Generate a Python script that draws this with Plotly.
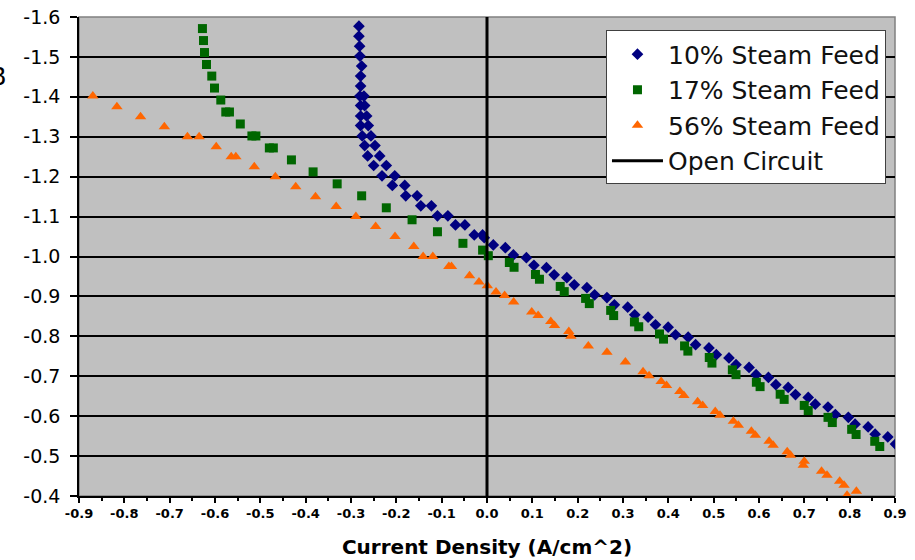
import plotly.graph_objects as go

# ---- data ----
steam10_x = [-0.2825, -0.2825, -0.281, -0.2803, -0.2765, -0.2788, -0.2788, -0.2803, -0.2715,
             -0.2788, -0.2699, -0.2788, -0.2655, -0.2788, -0.2619, -0.2752, -0.256, -0.2699, -0.2471,
             -0.2633, -0.2367, -0.25, -0.2221, -0.2316, -0.2035, -0.2088, -0.1814, -0.1792, -0.1542,
             -0.146, -0.1226, -0.1093, -0.0863, -0.0695, -0.0487, -0.0281, -0.0097, -0.006, 0.0139,
             0.0405, 0.0582, 0.0869, 0.1035, 0.1312, 0.1482, 0.1761, 0.1925, 0.2204, 0.2374, 0.2646,
             0.281, 0.3104, 0.3259, 0.3553, 0.3717, 0.3996, 0.4159, 0.4438, 0.4602, 0.4896, 0.5058,
             0.5338, 0.5493, 0.5781, 0.5936, 0.6208, 0.6372, 0.6644, 0.6805, 0.7086, 0.7241, 0.7522,
             0.7684, 0.7971, 0.8119, 0.8407, 0.8562, 0.8841, 0.9011]
steam10_y = [-1.577, -1.552, -1.527, -1.502, -1.477, -1.452, -1.427, -1.402, -1.402,
             -1.378, -1.378, -1.352, -1.352, -1.328, -1.328, -1.302, -1.302, -1.278, -1.278,
             -1.252, -1.252, -1.228, -1.228, -1.202, -1.202, -1.178, -1.178, -1.152, -1.152,
             -1.127, -1.127, -1.102, -1.102, -1.079, -1.079, -1.054, -1.054, -1.047, -1.029,
             -1.022, -1.004, -0.997, -0.978, -0.972, -0.954, -0.947, -0.929, -0.922, -0.904, -0.897,
             -0.879, -0.873, -0.854, -0.848, -0.829, -0.823, -0.804, -0.798, -0.779, -0.771, -0.754,
             -0.746, -0.729, -0.722, -0.704, -0.697, -0.679, -0.672, -0.654, -0.647, -0.630, -0.623,
             -0.604, -0.597, -0.580, -0.573, -0.555, -0.548, -0.530]

steam17_x = [-0.6277, -0.6254, -0.6232, -0.6188, -0.6071, -0.6011, -0.5872, -0.5762, -0.5681,
             -0.5442, -0.5186, -0.5098, -0.4801, -0.4713, -0.4314, -0.3836, -0.3305, -0.2765,
             -0.2221, -0.1653, -0.1093, -0.0531, -0.0097, 0.0029, 0.0493, 0.0597, 0.1069, 0.1157,
             0.1615, 0.1704, 0.2175, 0.2257, 0.2728, 0.2794, 0.3252, 0.3347, 0.3805, 0.3894, 0.4358,
             0.4431, 0.4903, 0.4962, 0.5412, 0.5493, 0.5942, 0.6024, 0.6467, 0.6555, 0.6998, 0.7086,
             0.7522, 0.7617, 0.8044, 0.8142, 0.8553, 0.8664]
steam17_y = [-1.571, -1.541, -1.511, -1.481, -1.452, -1.422, -1.392, -1.362, -1.362,
             -1.332, -1.302, -1.302, -1.272, -1.272, -1.242, -1.212, -1.182, -1.152,
             -1.122, -1.092, -1.062, -1.033, -1.016, -1.002, -0.985, -0.973, -0.955, -0.943,
             -0.925, -0.912, -0.895, -0.882, -0.865, -0.852, -0.836, -0.824, -0.806, -0.793, -0.776,
             -0.763, -0.747, -0.733, -0.716, -0.704, -0.685, -0.674, -0.655, -0.642, -0.627, -0.614,
             -0.597, -0.584, -0.567, -0.554, -0.537, -0.524]

steam56_x = [-0.8695, -0.8164, -0.7642, -0.7117, -0.6608, -0.635, -0.5973, -0.5642, -0.554,
             -0.5133, -0.4668, -0.4219, -0.3783, -0.3327, -0.2892, -0.2456, -0.2029, -0.1615,
             -0.1409, -0.1195, -0.0841, -0.0783, -0.0385, -0.0177, 0.0007, 0.0199, 0.0389, 0.0588,
             0.0987, 0.1128, 0.1407, 0.1489, 0.1805, 0.185, 0.2235, 0.2646, 0.3053, 0.3442, 0.3575,
             0.3841, 0.396, 0.4254, 0.4343, 0.4646, 0.4757, 0.5035, 0.5139, 0.5434, 0.5544, 0.5832,
             0.592, 0.6223, 0.6312, 0.6622, 0.6695, 0.6998, 0.6976, 0.738, 0.75, 0.7779, 0.7876,
             0.7942, 0.8148]
steam56_y = [-1.402, -1.375, -1.350, -1.325, -1.300, -1.300, -1.275, -1.250, -1.250,
             -1.225, -1.200, -1.175, -1.150, -1.125, -1.100, -1.075, -1.050, -1.025,
             -1.000, -1.000, -0.975, -0.975, -0.952, -0.936, -0.927, -0.911, -0.902, -0.886,
             -0.861, -0.852, -0.837, -0.827, -0.812, -0.800, -0.776, -0.760, -0.736, -0.711, -0.701,
             -0.687, -0.677, -0.662, -0.652, -0.636, -0.627, -0.612, -0.602, -0.587, -0.577, -0.562,
             -0.552, -0.537, -0.527, -0.511, -0.502, -0.487, -0.477, -0.462, -0.452, -0.437, -0.427,
             -0.402, -0.412]

open_circuit_x = [0.0, 0.0]
open_circuit_y = [-1.6, -0.4]

series_names = ["10% Steam Feed", "17% Steam Feed", "56% Steam Feed", "Open Circuit"]

x_tick_vals = [-0.9, -0.8, -0.7, -0.6, -0.5, -0.4, -0.3, -0.2, -0.1, 0.0,
               0.1, 0.2, 0.3, 0.4, 0.5, 0.6, 0.7, 0.8, 0.9]
x_tick_text = ["-0.9", "-0.8", "-0.7", "-0.6", "-0.5", "-0.4", "-0.3", "-0.2", "-0.1", "0.0",
               "0.1", "0.2", "0.3", "0.4", "0.5", "0.6", "0.7", "0.8", "0.9"]
y_tick_vals = [-1.6, -1.5, -1.4, -1.3, -1.2, -1.1, -1.0, -0.9, -0.8, -0.7, -0.6, -0.5, -0.4]
y_tick_text = ["-1.6", "-1.5", "-1.4", "-1.3", "-1.2", "-1.1", "-1.0", "-0.9", "-0.8",
               "-0.7", "-0.6", "-0.5", "-0.4"]

FONT = "DejaVu Sans, Verdana, sans-serif"

fig = go.Figure()
fig.add_trace(go.Scatter(x=steam10_x, y=steam10_y, mode="markers", name=series_names[0],
                         marker=dict(symbol="diamond", size=9, color="#000080")))
fig.add_trace(go.Scatter(x=steam17_x, y=steam17_y, mode="markers", name=series_names[1],
                         marker=dict(symbol="square", size=9, color="#006600")))
fig.add_trace(go.Scatter(x=steam56_x, y=steam56_y, mode="markers", name=series_names[2],
                         marker=dict(symbol="triangle-up", size=10, color="#FF6600")))
fig.add_trace(go.Scatter(x=open_circuit_x, y=open_circuit_y, mode="lines", name=series_names[3],
                         line=dict(color="black", width=3)))

fig.update_layout(
    width=915, height=560,
    margin=dict(l=79, r=20, t=17, b=64, autoexpand=False),
    paper_bgcolor="white",
    plot_bgcolor="#C0C0C0",
    font=dict(family=FONT, color="black"),
    showlegend=True,
    legend=dict(
        x=0.6458, y=0.972, xanchor="left", yanchor="top",
        bgcolor="white", bordercolor="#404040", borderwidth=1,
        font=dict(family=FONT, size=25, color="#111111"),
        itemwidth=51, tracegroupgap=0,
    ),
    xaxis=dict(
        range=[-0.9, 0.9], tickvals=x_tick_vals, ticktext=x_tick_text,
        automargin=False, ticklabeloverflow="allow",
        showgrid=False, zeroline=False,
        showline=True, linecolor="black", linewidth=1.5,
        ticks="outside", ticklen=5, tickcolor="black", tickwidth=1.5,
        minor=dict(dtick=0.05, tick0=-0.9, ticks="outside", ticklen=3, tickcolor="black", showgrid=False),
        tickfont=dict(family=FONT, size=13, color="black", weight="bold"),
        title=dict(text="<b>Current Density (A/cm^2)</b>", font=dict(family=FONT, size=20, color="black"),
                   standoff=20),
    ),
    yaxis=dict(
        range=[-0.4, -1.6], tickvals=y_tick_vals, ticktext=y_tick_text,
        automargin=False, ticklabeloverflow="allow",
        showgrid=True, gridcolor="black", gridwidth=1.5, zeroline=False,
        showline=True, linecolor="black", linewidth=1.5,
        ticks="outside", ticklen=7, tickcolor="black", tickwidth=1.5,
        tickfont=dict(family=FONT, size=19, color="black"),
        ticklabelstandoff=6,
    ),
    shapes=[dict(type="rect", xref="paper", yref="paper", x0=0, x1=1, y0=0, y1=1,
                 line=dict(color="#808080", width=1.5), layer="below")],
    annotations=[dict(text="B", xref="paper", yref="paper", x=-0.087, y=0.874,
                      xanchor="right", yanchor="middle", showarrow=False,
                      font=dict(family=FONT, size=24, color="black"))],
)

# remove the page's default 8px body margin so the figure sits at the window's corner
fig.write_html("out.html", config={"displayModeBar": False},
               post_script="document.body.style.margin='0';")
